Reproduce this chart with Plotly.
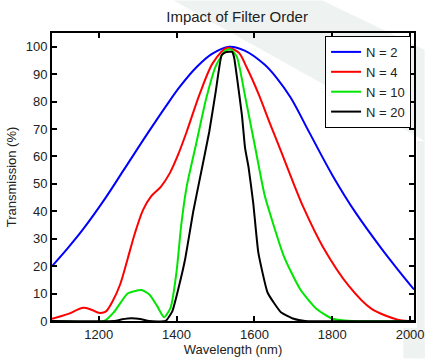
import plotly.graph_objects as go

# N = 2
wl_n2 = [1080, 1120, 1160, 1218, 1264, 1326, 1376, 1409, 1451, 1490, 1535, 1575, 1626, 1658, 1693, 1742, 1801, 1860, 1926, 1970, 2010]
tr_n2 = [20, 26.5, 33.5, 45, 55, 68.5, 79, 85.5, 92.5, 97.3, 100, 98.6, 93.5, 88.5, 81.5, 68.5, 53, 39.5, 26.5, 18.5, 11.5]

# N = 4
wl_n4 = [1080, 1120, 1160, 1180, 1200, 1218, 1235, 1255, 1275, 1293, 1314, 1335, 1360, 1383, 1405, 1426, 1460, 1493, 1530, 1560, 1580, 1610, 1640, 1668, 1701, 1726, 1776, 1843, 1901, 1968, 2010]
tr_n4 = [0.8, 2.5, 4.8, 4.2, 3, 3.4, 7, 13.3, 23, 32, 40.5, 45.5, 49, 54, 61, 69, 83, 94, 99.6, 97.8, 92.5, 83, 72, 62, 50, 41.4, 27, 12.7, 4.4, 0.5, 0]

# N = 10
wl_n10 = [1080, 1214, 1239, 1274, 1290, 1310, 1330, 1350, 1368, 1385, 1400, 1412, 1426, 1451, 1476, 1501, 1526, 1540, 1555, 1576, 1601, 1626, 1643, 1676, 1718, 1760, 1801, 1850, 2010]
tr_n10 = [0, 0, 3.2, 10, 10.8, 11.3, 9.7, 5.5, 1.4, 5, 18, 35, 49, 65, 81, 93, 98.7, 99, 96.3, 82, 64, 46, 37.8, 23.5, 11.5, 4.4, 0.8, 0, 0]

# N = 20
wl_n20 = [1080, 1240, 1260, 1284, 1310, 1330, 1372, 1389, 1405, 1422, 1443, 1460, 1484, 1501, 1516, 1528, 1543, 1548, 1556, 1568, 1576, 1585, 1597, 1610, 1634, 1668, 1701, 1730, 2010]
tr_n20 = [0, 0, 0.6, 1.0, 0.6, 0, 0, 3.5, 12, 22.5, 40, 52, 69, 84, 97, 98.1, 98.1, 96, 88, 75, 63, 56, 43, 25, 10.3, 3.2, 0.8, 0, 0]

x_ticks = [1200, 1400, 1600, 1800, 2000]
y_ticks = [0, 10, 20, 30, 40, 50, 60, 70, 80, 90, 100]

series = [
    ("N = 2", wl_n2, tr_n2, "#0000ff", 1.0),
    ("N = 4", wl_n4, tr_n4, "#ff0000", 0.8),
    ("N = 10", wl_n10, tr_n10, "#00e600", 0.6),
    ("N = 20", wl_n20, tr_n20, "#000000", 0.4),
]

W, H = 435, 364
ML, MR, MT, MB = 52, 11, 33, 38
PW, PH = W - ML - MR, H - MT - MB


def px(x):
    return (x - ML) / PW


def py(y):
    return (H - MB - y) / PH


fig = go.Figure()
for name, xs, ys, col, sm in series:
    fig.add_trace(go.Scatter(x=xs, y=ys, mode="lines", name=name,
                             line=dict(color=col, width=2, shape="spline", smoothing=sm)))

# faint background watermark
band = [(177, 0), (330, 0), (435, 50), (435, 143)]
path = "M " + " L ".join(f"{px(a):.4f},{py(b):.4f}" for a, b in band) + " Z"
wm = "#eef3f1"
shapes = [
    dict(type="path", path=path, xref="paper", yref="paper", layer="below",
         fillcolor=wm, line=dict(width=0)),
    dict(type="rect", x0=px(427), x1=px(435), y0=py(143), y1=py(364), xref="paper", yref="paper",
         layer="below", fillcolor=wm, line=dict(width=0)),
    dict(type="rect", x0=px(413), x1=px(435), y0=py(333), y1=py(364), xref="paper", yref="paper",
         layer="below", fillcolor=wm, line=dict(width=0)),
]

font = "Liberation Sans, Arial, sans-serif"
axis_common = dict(showline=True, linecolor="black", linewidth=2, mirror="ticks",
                   ticks="inside", ticklen=5, tickwidth=1.5, tickcolor="black",
                   showgrid=False, zeroline=False,
                   tickfont=dict(family=font, size=13, color="#222"))

fig.update_layout(
    width=W, height=H,
    margin=dict(l=ML, r=MR, t=MT, b=MB),
    paper_bgcolor="white", plot_bgcolor="rgba(0,0,0,0)",
    shapes=shapes,
    title=dict(text="Impact of Filter Order", x=0.545, xanchor="center", y=0.955, yanchor="middle",
               font=dict(family=font, size=15, color="#222")),
    xaxis=dict(range=[1080, 2010], tickvals=x_ticks,
               title=dict(text="Wavelength (nm)", standoff=2, font=dict(family=font, size=13, color="#222")),
               **axis_common),
    yaxis=dict(range=[0, 105], tickvals=y_ticks,
               title=dict(text="Transmission (%)", standoff=6, font=dict(family=font, size=13, color="#222")),
               **axis_common),
    legend=dict(x=px(421), y=py(36), xanchor="right", yanchor="top",
                bgcolor="white", bordercolor="black", borderwidth=1,
                font=dict(family=font, size=13, color="#222"),
                tracegroupgap=0, itemwidth=30),
    showlegend=True,
)

fig.write_html("out.html")
